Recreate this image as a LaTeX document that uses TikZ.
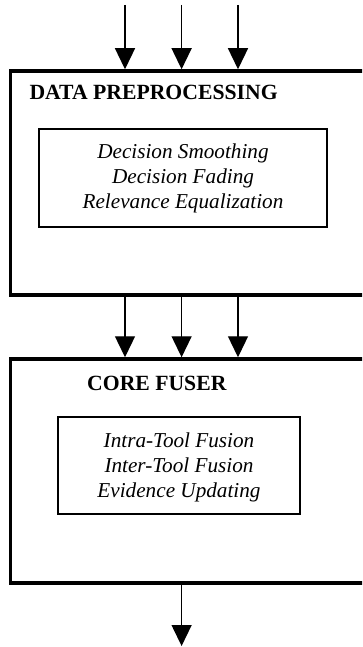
\documentclass[tikz,border=0pt]{standalone}
\usepackage{fontspec}
\setmainfont{Liberation Serif}
\usetikzlibrary{arrows.meta}
\begin{document}
\begin{tikzpicture}[x=1pt,y=-1pt,
  bigbox/.style={draw,line width=3.5pt,rectangle,inner sep=0pt,minimum width=355.5pt,minimum height=224pt},
  innerbox/.style={draw,line width=1.1pt,rectangle,inner sep=0pt},
  title/.style={font=\fontsize{21.7}{24.5}\selectfont\bfseries,anchor=base west,inner sep=0pt},
  item/.style={font=\fontsize{21.2}{24.5}\selectfont\itshape,anchor=base,inner sep=0pt},
  flow/.style={line width=1.3pt,-{Triangle[width=20pt,length=21pt]}}]
\useasboundingbox (0,0) rectangle (362,647);
\clip (0,0) rectangle (362,647);

% stage boxes
\node[bigbox] (dp) at (188.25,183) {};
\node[bigbox] (cf) at (188.25,471) {};

% titles
\node[title] (dpt) at (29.3,100) {DATA PREPROCESSING};
\node[title] (cft) at (87,390) {CORE FUSER};

% inner boxes
\node[innerbox,minimum width=288pt,minimum height=98pt] (dpin) at (183,178) {};
\node[innerbox,minimum width=242pt,minimum height=97pt] (cfin) at (179,465.5) {};

% inner texts
\node[item] (dp1) at (183,159) {Decision Smoothing};
\node[item] (dp2) at (183,183.5) {Decision Fading};
\node[item] (dp3) at (183,208) {Relevance Equalization};
\node[item] (cf1) at (179,447) {Intra-Tool Fusion};
\node[item] (cf2) at (179,472) {Inter-Tool Fusion};
\node[item] (cf3) at (179,497) {Evidence Updating};

% input coordinates
\coordinate (in1) at (125,5);
\coordinate (in2) at (181.6,5);
\coordinate (in3) at (238,5);
\coordinate (out) at (181.6,646);

% connectors
\foreach \c in {in1,in2,in3}{
  \draw[flow] (\c) -- (dp.north -| \c);
  \draw[flow] (dp.south -| \c) -- (cf.north -| \c);
}
\draw[flow] (cf.south -| out) -- (out);
\end{tikzpicture}
\end{document}
